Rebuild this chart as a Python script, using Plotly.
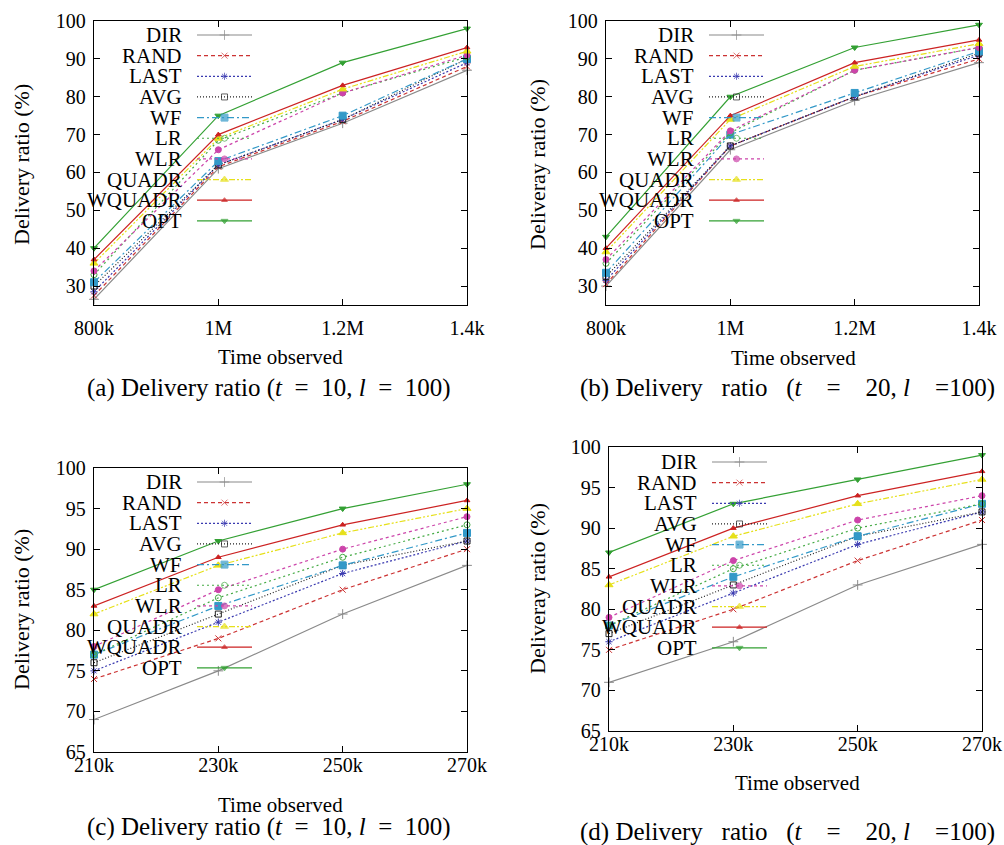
import plotly.graph_objects as go

W, H = 1004, 845

series_names = ["DIR", "RAND", "LAST", "AVG", "WF", "LR", "WLR", "QUADR", "WQUADR", "OPT"]

xlabels_top = ["800k", "1M", "1.2M", "1.4k"]
xlabels_bottom = ["210k", "230k", "250k", "270k"]

# (a) t=10, l=100
a_DIR = [26.5, 61, 73, 87]
a_RAND = [27.5, 61.5, 73.5, 88]
a_LAST = [28.5, 62, 74, 89]
a_AVG = [30, 62, 74, 90]
a_WF = [31, 63, 75, 90]
a_LR = [33, 68.5, 81, 90.5]
a_WLR = [34, 66, 81, 91]
a_QUADR = [36, 69, 82, 92]
a_WQUADR = [37, 70, 83, 93]
a_OPT = [40, 75, 89, 98]

# (b) t=20, l=100
b_DIR = [30, 66, 79, 89]
b_RAND = [30.5, 67, 80, 90]
b_LAST = [31.5, 67, 80, 91]
b_AVG = [32.5, 67, 80, 91.5]
b_WF = [33.5, 70, 81, 92]
b_LR = [36, 70.5, 87, 93]
b_WLR = [37, 71, 87, 93]
b_QUADR = [39, 74, 88, 94]
b_WQUADR = [40, 75, 89, 95]
b_OPT = [43, 80, 93, 99]

# (c) t=10, l=100
c_DIR = [69, 75, 82, 88]
c_RAND = [74, 79, 85, 90]
c_LAST = [75, 81, 87, 91]
c_AVG = [76, 82, 88, 91]
c_WF = [77, 83, 88, 92]
c_LR = [77, 84, 89, 93]
c_WLR = [78, 85, 90, 94]
c_QUADR = [82, 88, 92, 95]
c_WQUADR = [83, 89, 93, 96]
c_OPT = [85, 91, 95, 98]

# (d) t=20, l=100
d_DIR = [71, 76, 83, 88]
d_RAND = [75, 80, 86, 91]
d_LAST = [76, 82, 88, 92]
d_AVG = [77, 83, 89, 92]
d_WF = [78, 84, 89, 93]
d_LR = [78, 85, 90, 93]
d_WLR = [79, 86, 91, 94]
d_QUADR = [83, 89, 93, 96]
d_WQUADR = [84, 90, 94, 97]
d_OPT = [87, 93, 96, 99]

panel_a = [a_DIR, a_RAND, a_LAST, a_AVG, a_WF, a_LR, a_WLR, a_QUADR, a_WQUADR, a_OPT]
panel_b = [b_DIR, b_RAND, b_LAST, b_AVG, b_WF, b_LR, b_WLR, b_QUADR, b_WQUADR, b_OPT]
panel_c = [c_DIR, c_RAND, c_LAST, c_AVG, c_WF, c_LR, c_WLR, c_QUADR, c_WQUADR, c_OPT]
panel_d = [d_DIR, d_RAND, d_LAST, d_AVG, d_WF, d_LR, d_WLR, d_QUADR, d_WQUADR, d_OPT]

styles = {
    "DIR": dict(color="#8a8a8a", dash="solid", symbol="cross-thin-open", msize=7),
    "RAND": dict(color="#cc3333", dash="4px,3px", symbol="x-thin-open", msize=6),
    "LAST": dict(color="#3a3ab0", dash="2px,2px", symbol="asterisk-open", msize=6),
    "AVG": dict(color="#222222", dash="1px,2px", symbol="square-open", msize=6),
    "WF": dict(color="#3399c8", dash="7px,3px,2px,3px", symbol="square", msize=7),
    "LR": dict(color="#44aa44", dash="2px,3px", symbol="circle-open", msize=6),
    "WLR": dict(color="#cc44aa", dash="3px,3px", symbol="circle", msize=6),
    "QUADR": dict(color="#e6e01a", dash="6px,2px,2px,2px,2px,2px", symbol="triangle-up", msize=7),
    "WQUADR": dict(color="#cc2222", dash="solid", symbol="triangle-up", msize=5),
    "OPT": dict(color="#33a033", dash="solid", symbol="triangle-down", msize=6),
}

FONT = "Liberation Serif, Times New Roman, serif"

# panel pixel boxes: left, right, top, bottom
panels = [
    dict(data=panel_a, box=(94, 467, 21, 305), yr=[25, 100], dt=10, xl=xlabels_top, so=5),
    dict(data=panel_b, box=(606, 979, 21, 305), yr=[25, 100], dt=10, xl=xlabels_top, so=5),
    dict(data=panel_c, box=(94, 467, 468, 752), yr=[65, 100], dt=5, xl=xlabels_bottom, so=-5),
    dict(data=panel_d, box=(609, 982, 447, 731), yr=[65, 100], dt=5, xl=xlabels_bottom, so=-5),
]

fig = go.Figure()
layout = dict(
    width=W, height=H, margin=dict(l=0, r=0, t=0, b=0, pad=0, autoexpand=False),
    paper_bgcolor="white", plot_bgcolor="rgba(0,0,0,0)", showlegend=False,
    font=dict(family=FONT, color="black"),
)

for i, p in enumerate(panels):
    n = i + 1
    xa = "xaxis" if n == 1 else f"xaxis{n}"
    ya = "yaxis" if n == 1 else f"yaxis{n}"
    xr = "x" if n == 1 else f"x{n}"
    yr = "y" if n == 1 else f"y{n}"
    l, r, t, b = p["box"]
    layout[xa] = dict(
        domain=[l / W, r / W], anchor=yr, range=[0, 3], tickmode="array",
        tickvals=[0, 1, 2, 3], ticktext=p["xl"], showline=True, linecolor="black",
        linewidth=1.3, mirror="ticks", ticks="inside", ticklen=6, tickcolor="black",
        showgrid=False, zeroline=False, tickfont=dict(family=FONT, size=20),
        fixedrange=True, automargin=False, ticklabelstandoff=p["so"],
    )
    layout[ya] = dict(
        domain=[1 - b / H, 1 - t / H], anchor=xr, range=p["yr"], dtick=p["dt"], tick0=0,
        showline=True, linecolor="black", linewidth=1.3, mirror="ticks", ticks="inside",
        ticklen=6, tickcolor="black", showgrid=False, zeroline=False,
        tickfont=dict(family=FONT, size=20), fixedrange=True, automargin=False,
        ticklabelstandoff=3,
    )
    for name, vals in zip(series_names, p["data"]):
        s = styles[name]
        fig.add_trace(go.Scatter(
            x=[0, 1, 2, 3], y=vals, mode="lines+markers", name=name,
            xaxis=xr, yaxis=yr, cliponaxis=False, hoverinfo="skip",
            line=dict(color=s["color"], width=1.2, dash=s["dash"]),
            marker=dict(symbol=s["symbol"], size=s["msize"], color=s["color"],
                        line=dict(color=s["color"], width=1)),
        ))

# overlay pixel axis for legend samples
layout["xaxis5"] = dict(domain=[0, 1], range=[0, W], visible=False, fixedrange=True,
                        anchor="y5", automargin=False)
layout["yaxis5"] = dict(domain=[0, 1], range=[H, 0], visible=False, fixedrange=True,
                        anchor="x5", automargin=False)

annotations = []
legend_pos = [
    (94, 21 + 14), (606, 21 + 14), (94, 468 + 14), (609, 447 + 15),
]
for (pl, py0) in legend_pos:
    for k, name in enumerate(series_names):
        s = styles[name]
        yy = py0 + k * 20.65
        x0, x1 = pl + 103, pl + 158
        fig.add_trace(go.Scatter(
            x=[x0, (x0 + x1) / 2, x1], y=[yy, yy, yy], mode="lines+markers",
            xaxis="x5", yaxis="y5", hoverinfo="skip", cliponaxis=False,
            line=dict(color=s["color"], width=1.2, dash=s["dash"]),
            marker=dict(symbol=s["symbol"], size=[0, s["msize"], 0], color=s["color"],
                        line=dict(color=s["color"], width=1)),
        ))
        annotations.append(dict(
            x=(pl + 90) / W, y=1 - yy / H, xref="paper", yref="paper",
            xanchor="right", yanchor="middle", text=name, showarrow=False,
            font=dict(family=FONT, size=21, color="black"),
        ))

def ann(x, y, text, size, angle=0, xanchor="center"):
    annotations.append(dict(
        x=x / W, y=1 - y / H, xref="paper", yref="paper", text=text, showarrow=False,
        xanchor=xanchor, yanchor="middle", textangle=angle,
        font=dict(family=FONT, size=size, color="black"),
    ))

ann(21, 165, "Delivery ratio (%)", 22, -90)
ann(537, 165, "Deliveray ratio (%)", 22, -90)
ann(21, 610, "Delivery ratio (%)", 22, -90)
ann(537, 589, "Deliveray ratio (%)", 22, -90)

ann(280, 357, "Time observed", 21)
ann(793, 358, "Time observed", 21)
ann(280, 805, "Time observed", 21)
ann(797, 783, "Time observed", 21)

sp = "&nbsp;"
cap_ac = "({}) Delivery ratio (<i>t</i>" + sp * 2 + "=" + sp * 2 + "10, <i>l</i>" + sp * 2 + "=" + sp * 2 + "100)"
cap_bd = ("({}) Delivery" + sp * 3 + "ratio" + sp * 3 + "(<i>t</i>" + sp * 4 + "=" + sp * 4
          + "20, <i>l</i>" + sp * 4 + "=100)")

ann(269, 388, cap_ac.format("a"), 25)
ann(578, 388, cap_bd.format("b"), 25, xanchor="left")
ann(269, 827, cap_ac.format("c"), 25)
ann(578, 832, cap_bd.format("d"), 25, xanchor="left")

layout["annotations"] = annotations
fig.update_layout(**layout)
fig.write_html("out.html", config={"displayModeBar": False},
               post_script="document.body.style.margin='0px';")
